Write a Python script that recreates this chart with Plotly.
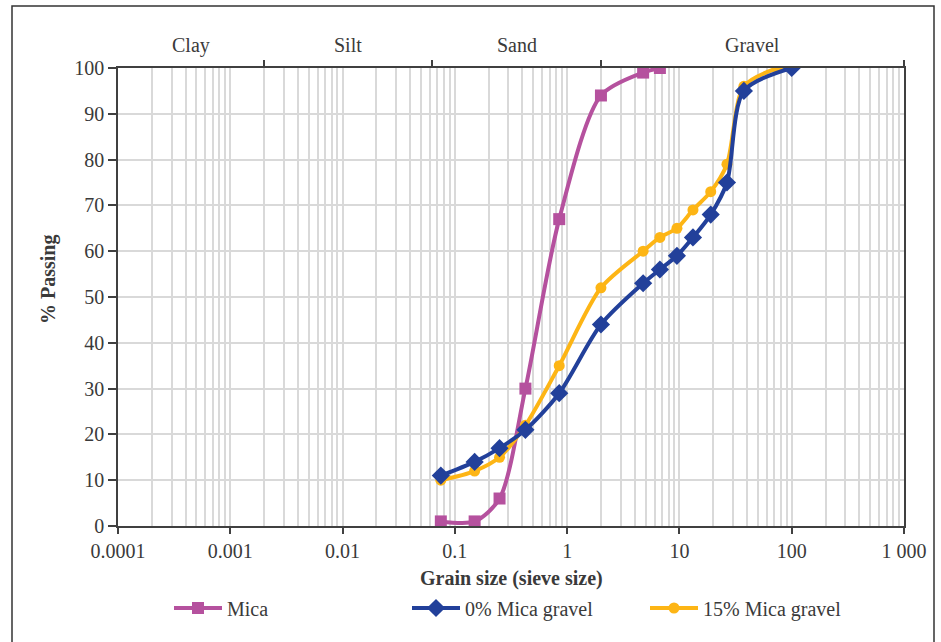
import math
import plotly.graph_objects as go

# Sieve sizes (mm) and percent passing for each sample
sieve_mica = [0.075, 0.15, 0.25, 0.425, 0.85, 2.0, 4.75, 6.7]
pass_mica = [1, 1, 6, 30, 67, 94, 99, 100]

sieve_0 = [0.075, 0.15, 0.25, 0.425, 0.85, 2.0, 4.75, 6.7, 9.5, 13.2, 19, 26.5, 37.5, 100]
pass_0 = [11, 14, 17, 21, 29, 44, 53, 56, 59, 63, 68, 75, 95, 100]

sieve_15 = [0.075, 0.15, 0.25, 0.425, 0.85, 2.0, 4.75, 6.7, 9.5, 13.2, 19, 26.5, 37.5, 75]
pass_15 = [10, 12, 15, 22, 35, 52, 60, 63, 65, 69, 73, 79, 96, 100]

# Soil classification bands (boundaries in mm)
zone_names = ["Clay", "Silt", "Sand", "Gravel"]
zone_edges = [0.0001, 0.002, 0.063, 2.0, 1000]

decades = [0.0001, 0.001, 0.01, 0.1, 1, 10, 100, 1000]
decade_labels = ["0.0001", "0.001", "0.01", "0.1", "1", "10", "100", "1 000"]
y_ticks = list(range(0, 101, 10))

FONT = "Liberation Serif"
TEXT = "#3a3a3a"
AXIS = "#404040"
GRID = "#d9d9d9"
FS = 20

W, H = 941, 642
ML, MR, MT, MB = 118, 37, 68, 116
PW, PH = W - ML - MR, H - MT - MB


def px_x(p):
    return (p - ML) / PW


def px_y(p):
    return (H - MB - p) / PH


minor_vals = [m * d for d in decades[:-1] for m in range(2, 10)]

fig = go.Figure()

fig.add_trace(go.Scatter(
    x=sieve_mica, y=pass_mica, name="Mica", mode="lines+markers",
    line=dict(color="#b5519e", width=4, shape="spline", smoothing=0.8),
    marker=dict(symbol="square", size=12, color="#b5519e"),
    legendrank=1,
))
fig.add_trace(go.Scatter(
    x=sieve_15, y=pass_15, name="15% Mica gravel", mode="lines+markers",
    line=dict(color="#fdb515", width=4, shape="spline", smoothing=0.8),
    marker=dict(symbol="circle", size=11, color="#fdb515"),
    legendrank=3,
))
fig.add_trace(go.Scatter(
    x=sieve_0, y=pass_0, name="0% Mica gravel", mode="lines+markers",
    line=dict(color="#22409a", width=4, shape="spline", smoothing=0.8),
    marker=dict(symbol="diamond", size=14, color="#22409a"),
    legendrank=2,
))
# anchor trace for the top (classification) axis
fig.add_trace(go.Scatter(
    x=zone_edges, y=[None] * len(zone_edges), xaxis="x2", mode="markers",
    showlegend=False, hoverinfo="skip",
))

# zone names centred (in log space) between boundaries
for name, lo, hi in zip(zone_names, zone_edges[:-1], zone_edges[1:]):
    fig.add_annotation(
        x=(math.log10(lo) + math.log10(hi)) / 2, xref="x",
        y=px_y(45), yref="paper", yanchor="middle",
        text=name, showarrow=False, font=dict(size=FS, color=TEXT),
    )

fig.add_annotation(
    x=0.5, xref="paper", y=px_y(578), yref="paper", yanchor="middle",
    text="<b>Grain size (sieve size)</b>", showarrow=False,
    font=dict(size=20, color=TEXT),
)
fig.add_annotation(
    x=px_x(48), xref="paper", y=px_y(280), yref="paper",
    xanchor="center", yanchor="middle", textangle=-90,
    text="<b>% Passing</b>", showarrow=False,
    font=dict(size=20, color=TEXT),
)

# outer frame
fig.add_shape(
    type="rect", xref="paper", yref="paper",
    x0=px_x(12), x1=px_x(934), y0=px_y(660), y1=px_y(6),
    line=dict(color="#333333", width=1.5), fillcolor="rgba(0,0,0,0)",
)

fig.update_layout(
    width=W, height=H,
    margin=dict(l=ML, r=MR, t=MT, b=MB),
    paper_bgcolor="white", plot_bgcolor="white",
    font=dict(family=FONT, size=FS, color=TEXT),
    xaxis=dict(
        type="log", range=[-4, 3],
        tickmode="array", tickvals=decades, ticktext=decade_labels,
        ticks="outside", ticklen=6, tickwidth=1.5, tickcolor=AXIS,
        showline=True, linecolor=AXIS, linewidth=1.5, mirror=True,
        showgrid=True, gridcolor=GRID, gridwidth=1.5,
        minor=dict(tickmode="array", tickvals=minor_vals, ticks="",
                   showgrid=True, gridcolor=GRID, gridwidth=1.5),
        zeroline=False,
        tickfont=dict(size=FS, color=TEXT),
    ),
    xaxis2=dict(
        type="log", range=[-4, 3], overlaying="x", side="top", anchor="y",
        tickmode="array", tickvals=zone_edges[1:], showticklabels=False,
        ticks="outside", ticklen=6, tickwidth=1.5, tickcolor=AXIS,
        showline=True, linecolor=AXIS, linewidth=1.5, showgrid=False,
        zeroline=False,
    ),
    yaxis=dict(
        range=[0, 100], tickmode="array", tickvals=y_ticks,
        ticks="outside", ticklen=8, tickwidth=1.5, tickcolor=AXIS,
        showline=True, linecolor=AXIS, linewidth=1.5, mirror=True,
        showgrid=True, gridcolor=GRID, gridwidth=1.5, zeroline=False,
        tickfont=dict(size=FS, color=TEXT),
    ),
    showlegend=True,
    legend=dict(
        orientation="h", x=px_x(169), xanchor="left",
        y=px_y(608), yanchor="middle",
        itemwidth=48,
        entrywidth=175, entrywidthmode="pixels",
        font=dict(size=FS, color=TEXT), bgcolor="rgba(0,0,0,0)",
    ),
)

fig.write_html("out.html")
